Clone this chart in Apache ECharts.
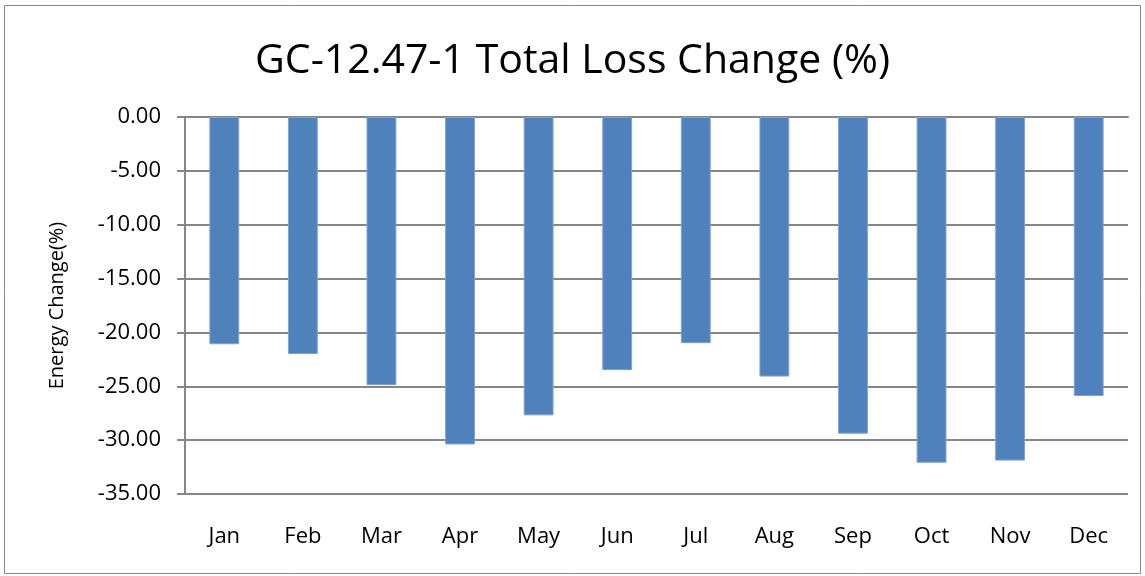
<!DOCTYPE html>
<html>
<head>
<meta charset="utf-8">
<script src="https://cdn.jsdelivr.net/npm/echarts@6/dist/echarts.min.js"></script>
<style>
  html, body { margin: 0; padding: 0; background: #fff; }
  #chart { width: 1145px; height: 576px; }
</style>
</head>
<body>
<div id="chart"></div>
<script>
  // monthly values
  var months = ['Jan', 'Feb', 'Mar', 'Apr', 'May', 'Jun', 'Jul', 'Aug', 'Sep', 'Oct', 'Nov', 'Dec'];
  var lossChange = [-21.1, -22.0, -24.9, -30.4, -27.7, -23.5, -21.0, -24.1, -29.4, -32.1, -31.9, -25.9];
  var yTicks = [0, -5, -10, -15, -20, -25, -30, -35];

  var chart = echarts.init(document.getElementById('chart'));
  var font = '"Open Sans", "Liberation Sans", sans-serif';

  chart.setOption({
    animation: false,
    color: ['#4F81BD'],
    title: {
      text: 'GC-12.47-1 Total Loss Change (%)',
      left: 'center',
      top: 36,
      textStyle: { fontFamily: font, fontWeight: 'normal', fontSize: 41, color: '#000' }
    },
    graphic: [{
      type: 'rect',
      shape: { x: 4.5, y: 5.5, width: 1136, height: 568 },
      style: { fill: 'none', stroke: '#888', lineWidth: 1 },
      silent: true
    }],
    grid: { left: 185, top: 117, right: 17, bottom: 82 },
    xAxis: [
      {
        // the line along zero, with ticks between months
        type: 'category',
        data: months,
        position: 'top',
        axisLine: { lineStyle: { color: '#868686', width: 2 } },
        axisTick: { inside: true, length: 8, lineStyle: { color: '#868686', width: 2 } },
        axisLabel: { show: false }
      },
      {
        // month names at the bottom
        type: 'category',
        data: months,
        position: 'bottom',
        axisLine: { show: false },
        axisTick: { show: false },
        axisLabel: { margin: 32, fontFamily: font, fontSize: 22, color: '#000' }
      }
    ],
    yAxis: {
      type: 'value',
      min: yTicks[yTicks.length - 1],
      max: yTicks[0],
      interval: 5,
      name: 'Energy Change(%)',
      nameLocation: 'middle',
      nameGap: 118,
      nameTextStyle: { fontFamily: font, fontSize: 20, color: '#000' },
      axisLine: { show: true, lineStyle: { color: '#868686', width: 2 } },
      axisTick: { show: true, length: 8, lineStyle: { color: '#868686', width: 2 } },
      axisLabel: {
        margin: 24, fontFamily: font, fontSize: 22, color: '#000',
        formatter: function (v) { return v.toFixed(2); }
      },
      splitLine: { lineStyle: { color: '#868686', width: 2 } }
    },
    series: [{
      name: 'Total Loss Change',
      type: 'bar',
      xAxisIndex: 0,
      data: lossChange,
      barWidth: '38%',
      itemStyle: { color: '#4F81BD', borderColor: '#7EA3D0', borderWidth: 1 }
    }]
  });
</script>
</body>
</html>
